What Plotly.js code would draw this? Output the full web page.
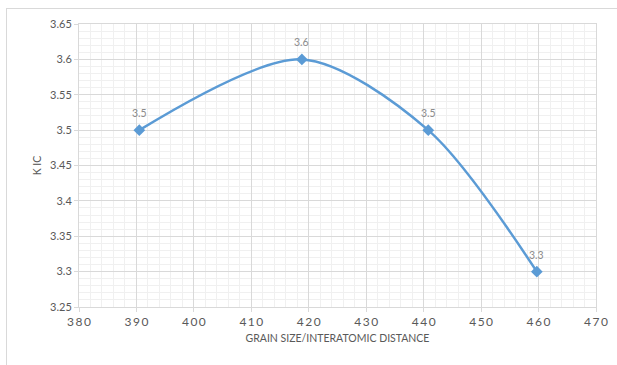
<!DOCTYPE html>
<html><head><meta charset="utf-8">
<script src="https://cdn.plot.ly/plotly-3.0.1.min.js"></script>
<style>
html,body{margin:0;padding:0;width:617px;height:365px;overflow:hidden;background:#fff;}
#frame{position:absolute;left:6px;top:8px;width:720px;height:420px;border:1px solid #d9d9d9;box-sizing:border-box;}
#chart{position:absolute;left:0;top:0;width:617px;height:365px;}
</style></head>
<body>
<div id="frame"></div>
<div id="chart"></div>
<script>
const grainSize = [390.5, 418.8, 440.8, 459.7];
const kic = [3.5, 3.6, 3.5, 3.3];
const pointLabels = ['3.5', '3.6', '3.5', '3.3'];
const xTicks = [380, 390, 400, 410, 420, 430, 440, 450, 460, 470];
const yTicks = [3.25, 3.3, 3.35, 3.4, 3.45, 3.5, 3.55, 3.6, 3.65];

const trace = {
  x: grainSize, y: kic, type: 'scatter', mode: 'lines+markers',
  line: {shape: 'spline', smoothing: 0.85, color: '#5B9BD5', width: 2.5},
  marker: {symbol: 'diamond', size: 9, color: '#5B9BD5'},
  hoverinfo: 'none'
};

const annotations = grainSize.map((xv, i) => ({
  x: xv, y: kic[i], text: pointLabels[i], showarrow: false,
  yshift: 17, font: {family: 'Lato, Open Sans, sans-serif', size: 10.5, color: '#8c8c8c'}
}));

const layout = {
  width: 617, height: 365,
  margin: {l: 79, r: 21, t: 24, b: 58},
  paper_bgcolor: 'rgba(0,0,0,0)', plot_bgcolor: 'rgba(0,0,0,0)',
  showlegend: false,
  font: {family: 'Lato, Open Sans, sans-serif', color: '#595959'},
  annotations: annotations,
  xaxis: {
    range: [380, 470], tickvals: xTicks, ticktext: xTicks.map(v => String(v).split('').join('\u2009')),
    tickfont: {size: 12, color: '#595959'},
    showgrid: true, gridcolor: '#d9d9d9', gridwidth: 1,
    minor: {dtick: 2, showgrid: true, gridcolor: '#f0f0f0', gridwidth: 1},
    zeroline: false, showline: true, linecolor: '#d9d9d9', mirror: true,
    ticks: 'outside', ticklen: 4, tickcolor: '#d9d9d9',
    title: {text: 'GRAIN SIZE/INTERATOMIC DISTANCE', font: {size: 10.5, color: '#595959'}, standoff: 6}
  },
  yaxis: {
    range: [3.25, 3.65], tickvals: yTicks, ticktext: yTicks.map(String),
    tickfont: {size: 11, color: '#595959'},
    showgrid: true, gridcolor: '#d9d9d9', gridwidth: 1,
    minor: {dtick: 0.01, showgrid: true, gridcolor: '#f0f0f0', gridwidth: 1},
    zeroline: false, showline: true, linecolor: '#d9d9d9', mirror: true,
    ticks: 'outside', ticklen: 4, tickcolor: '#d9d9d9',
    title: {text: 'K IC', font: {size: 10.5, color: '#595959'}, standoff: 6}
  }
};

Plotly.newPlot('chart', [trace], layout, {displayModeBar: false, staticPlot: true});
</script>
</body></html>
